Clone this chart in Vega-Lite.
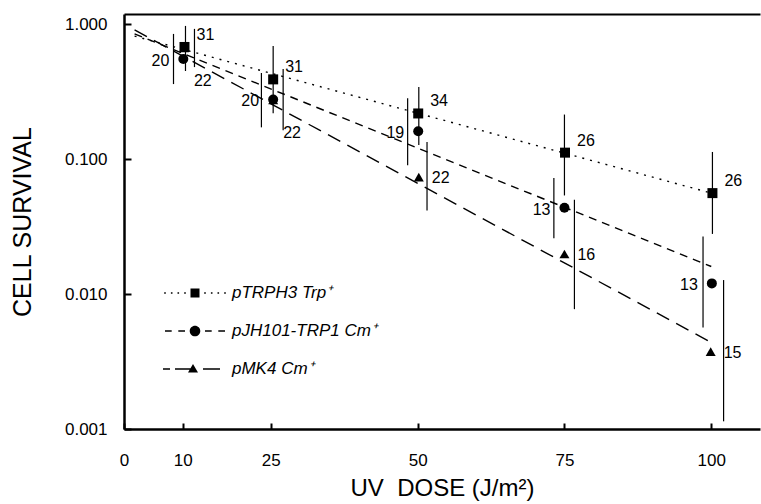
{
  "$schema": "https://vega.github.io/schema/vega-lite/v6.json",
  "width": 636,
  "height": 415,
  "autosize": {"type": "none"},
  "padding": {"left": 124, "top": 14, "right": 1, "bottom": 75},
  "background": "white",
  "config": {
    "view": {"stroke": null},
    "font": "Liberation Sans",
    "axis": {
      "domainColor": "black", "domainWidth": 2.5, "tickColor": "black", "tickWidth": 2, "tickSize": -6,
      "labelFont": "Liberation Sans", "labelFontSize": 17, "labelColor": "black",
      "titleFont": "Liberation Sans", "titleFontSize": 24, "titleFontWeight": "normal", "titleColor": "black",
      "grid": false, "labelOverlap": false, "labelFlush": false
    },
    "axisX": {"labelPadding": 29, "titlePadding": 8},
    "axisY": {"labelPadding": 24, "titlePadding": 29, "tickSize": -7, "titleFontSize": 25}
  },
  "datasets": {
    "pts": [
      {"series": "pMK4 Cm⁺", "dose": 10.2, "surv": 0.666, "bar_x": 12.0, "lo": 0.481, "hi": 0.923, "n": 22},
      {"series": "pMK4 Cm⁺", "dose": 25.4, "surv": 0.275, "bar_x": 27.1, "lo": 0.164, "hi": 0.465, "n": 22},
      {"series": "pMK4 Cm⁺", "dose": 50.2, "surv": 0.0736, "bar_x": 51.6, "lo": 0.0416, "hi": 0.134, "n": 22},
      {"series": "pMK4 Cm⁺", "dose": 75.0, "surv": 0.0198, "bar_x": 76.7, "lo": 0.00773, "hi": 0.05, "n": 16},
      {"series": "pMK4 Cm⁺", "dose": 99.9, "surv": 0.00374, "bar_x": 102.1, "lo": 0.00114, "hi": 0.0127, "n": 15},
      {"series": "pJH101-TRP1 Cm⁺", "dose": 10.1, "surv": 0.552, "bar_x": 8.43, "lo": 0.36, "hi": 0.847, "n": 20},
      {"series": "pJH101-TRP1 Cm⁺", "dose": 25.4, "surv": 0.277, "bar_x": 23.4, "lo": 0.172, "hi": 0.435, "n": 20},
      {"series": "pJH101-TRP1 Cm⁺", "dose": 50.1, "surv": 0.161, "bar_x": 48.3, "lo": 0.0899, "hi": 0.282, "n": 19},
      {"series": "pJH101-TRP1 Cm⁺", "dose": 75.0, "surv": 0.0436, "bar_x": 73.2, "lo": 0.0259, "hi": 0.0724, "n": 13},
      {"series": "pJH101-TRP1 Cm⁺", "dose": 100.1, "surv": 0.012, "bar_x": 98.6, "lo": 0.00565, "hi": 0.0267, "n": 13},
      {"series": "pTRPH3 Trp⁺", "dose": 10.3, "surv": 0.678, "bar_x": 10.47, "lo": 0.45, "hi": 0.971, "n": 31},
      {"series": "pTRPH3 Trp⁺", "dose": 25.4, "surv": 0.39, "bar_x": 25.4, "lo": 0.219, "hi": 0.69, "n": 31},
      {"series": "pTRPH3 Trp⁺", "dose": 50.1, "surv": 0.218, "bar_x": 50.2, "lo": 0.127, "hi": 0.342, "n": 34},
      {"series": "pTRPH3 Trp⁺", "dose": 75.1, "surv": 0.1117, "bar_x": 75.0, "lo": 0.0538, "hi": 0.214, "n": 26},
      {"series": "pTRPH3 Trp⁺", "dose": 100.2, "surv": 0.056, "bar_x": 100.2, "lo": 0.0279, "hi": 0.113, "n": 26}
    ],
    "fits": [
      {"series": "pTRPH3 Trp⁺", "dose": 1.8, "surv": 0.816},
      {"series": "pTRPH3 Trp⁺", "dose": 100.2, "surv": 0.0557},
      {"series": "pJH101-TRP1 Cm⁺", "dose": 1.8, "surv": 0.847},
      {"series": "pJH101-TRP1 Cm⁺", "dose": 100.0, "surv": 0.016},
      {"series": "pMK4 Cm⁺", "dose": 1.8, "surv": 0.907},
      {"series": "pMK4 Cm⁺", "dose": 99.5, "surv": 0.0045}
    ]
  },
  "layer": [
    {
      "resolve": {"scale": {"shape": "independent", "size": "independent"}},
      "layer": [
        {
          "data": {"name": "fits"},
          "mark": {"type": "line", "color": "black", "strokeWidth": 1.4, "strokeCap": "butt"},
          "encoding": {
            "x": {"field": "dose", "type": "quantitative", "title": "UV\u00a0\u00a0DOSE (J/m²)",
                  "scale": {"domain": [0, 108.3], "nice": false, "zero": false},
                  "axis": {"values": [0, 10, 25, 50, 75, 100]}},
            "y": {"field": "surv", "type": "quantitative", "title": "CELL SURVIVAL",
                  "scale": {"type": "log", "domain": [0.001, 1.19], "nice": false},
                  "axis": {"values": [0.001, 0.01, 0.1, 1], "format": ".3f"}},
            "detail": {"field": "series"},
            "strokeDash": {"field": "series", "type": "nominal",
                  "scale": {"domain": ["pTRPH3 Trp⁺", "pJH101-TRP1 Cm⁺", "pMK4 Cm⁺"], "range": [[2, 6], [8, 6], [14, 8]]},
                  "legend": null}
          }
        },
        {
          "data": {"name": "pts"},
          "mark": {"type": "rule", "color": "black", "strokeWidth": 1.2},
          "encoding": {
            "x": {"field": "bar_x", "type": "quantitative", "title": "UV\u00a0\u00a0DOSE (J/m²)"},
            "y": {"field": "lo", "type": "quantitative", "title": "CELL SURVIVAL"},
            "y2": {"field": "hi"}
          }
        },
        {
          "data": {"name": "pts"},
          "mark": {"type": "point", "filled": true, "color": "black", "opacity": 1},
          "encoding": {
            "x": {"field": "dose", "type": "quantitative", "title": "UV\u00a0\u00a0DOSE (J/m²)"},
            "y": {"field": "surv", "type": "quantitative", "title": "CELL SURVIVAL"},
            "shape": {"field": "series", "type": "nominal",
                  "scale": {"domain": ["pTRPH3 Trp⁺", "pJH101-TRP1 Cm⁺", "pMK4 Cm⁺"], "range": ["square", "circle", "triangle-up"]},
                  "legend": null},
            "size": {"field": "series", "type": "nominal",
                  "scale": {"domain": ["pTRPH3 Trp⁺", "pJH101-TRP1 Cm⁺", "pMK4 Cm⁺"], "range": [100, 100, 70]},
                  "legend": null}
          }
        },
        {
          "data": {"name": "pts"},
          "transform": [{"filter": "test(/^pTRPH3/, datum.series)"}],
          "mark": {"type": "text", "align": "left", "baseline": "middle", "dx": 12, "dy": -12, "fontSize": 16, "font": "Liberation Sans", "color": "black"},
          "encoding": {
            "x": {"field": "dose", "type": "quantitative", "title": "UV\u00a0\u00a0DOSE (J/m²)"},
            "y": {"field": "surv", "type": "quantitative", "title": "CELL SURVIVAL"},
            "text": {"field": "n"}
          }
        },
        {
          "data": {"name": "pts"},
          "transform": [{"filter": "test(/^pJH101/, datum.series)"}],
          "mark": {"type": "text", "align": "right", "baseline": "middle", "dx": -14, "dy": 2, "fontSize": 16, "font": "Liberation Sans", "color": "black"},
          "encoding": {
            "x": {"field": "dose", "type": "quantitative", "title": "UV\u00a0\u00a0DOSE (J/m²)"},
            "y": {"field": "surv", "type": "quantitative", "title": "CELL SURVIVAL"},
            "text": {"field": "n"}
          }
        },
        {
          "data": {"name": "pts"},
          "transform": [{"filter": "test(/^pMK4/, datum.series) && datum.dose > 40"}],
          "mark": {"type": "text", "align": "left", "baseline": "middle", "dx": 13, "dy": 1, "fontSize": 16, "font": "Liberation Sans", "color": "black"},
          "encoding": {
            "x": {"field": "dose", "type": "quantitative", "title": "UV\u00a0\u00a0DOSE (J/m²)"},
            "y": {"field": "surv", "type": "quantitative", "title": "CELL SURVIVAL"},
            "text": {"field": "n"}
          }
        },
        {
          "data": {"name": "pts"},
          "transform": [{"filter": "test(/^pMK4/, datum.series) && datum.dose < 40"}],
          "mark": {"type": "text", "align": "left", "baseline": "middle", "dx": 10, "dy": 33, "fontSize": 16, "font": "Liberation Sans", "color": "black"},
          "encoding": {
            "x": {"field": "dose", "type": "quantitative", "title": "UV\u00a0\u00a0DOSE (J/m²)"},
            "y": {"field": "surv", "type": "quantitative", "title": "CELL SURVIVAL"},
            "text": {"field": "n"}
          }
        },
        {
          "data": {"name": "pts"},
          "transform": [{"filter": "false"}],
          "mark": {"type": "point", "filled": true, "color": "black", "opacity": 1, "size": 400},
          "encoding": {
            "shape": {"field": "series", "type": "nominal",
              "scale": {
                "domain": ["pTRPH3 Trp⁺", "pJH101-TRP1 Cm⁺", "pMK4 Cm⁺"],
                "range": [
                  "M-3.08,-0.08h0.16v0.16h-0.16z M-2.41,-0.08h0.16v0.16h-0.16z M-1.75,-0.08h0.16v0.16h-0.16z M-1.08,-0.08h0.16v0.16h-0.16z M-0.45,-0.45h0.9v0.9h-0.9z M0.92,-0.08h0.16v0.16h-0.16z M1.59,-0.08h0.16v0.16h-0.16z M2.25,-0.08h0.16v0.16h-0.16z M2.92,-0.08h0.16v0.16h-0.16z",
                  "M-3.0,-0.07h0.67v0.14h-0.67z M-1.67,-0.07h0.67v0.14h-0.67z M-0.53,0a0.53,0.53 0 1,0 1.06,0a0.53,0.53 0 1,0 -1.06,0z M1.0,-0.07h0.67v0.14h-0.67z M2.33,-0.07h0.67v0.14h-0.67z",
                  "M-3.2,-0.07h0.7v0.14h-0.7z M-2.0,-0.07h1.6v0.14h-1.6z M-0.2,-0.5L0.3,0.35L-0.7,0.35z M0.8,-0.07h1.7v0.14h-1.7z"
                ]
              },
              "legend": {
                "orient": "none", "legendX": 61, "legendY": 269, "title": null, "padding": 0,
                "rowPadding": 20, "labelOffset": 27, "labelFontSize": 17, "labelFontStyle": "italic",
                "labelFont": "Liberation Sans", "labelColor": "black", "labelLimit": 400,
                "symbolSize": 400, "symbolFillColor": "black", "symbolStrokeWidth": 0, "symbolOpacity": 1
              }
            }
          }
        }
      ]
    },
    {
      "data": {"name": "fits"},
      "mark": {"type": "point", "opacity": 0},
      "encoding": {
        "x": {"field": "dose", "type": "quantitative",
              "axis": {"orient": "top", "labels": false, "ticks": false, "title": null, "domainWidth": 2}},
        "y": {"field": "surv", "type": "quantitative", "axis": null}
      }
    }
  ],
  "resolve": {"axis": {"x": "independent", "y": "independent"}}
}
